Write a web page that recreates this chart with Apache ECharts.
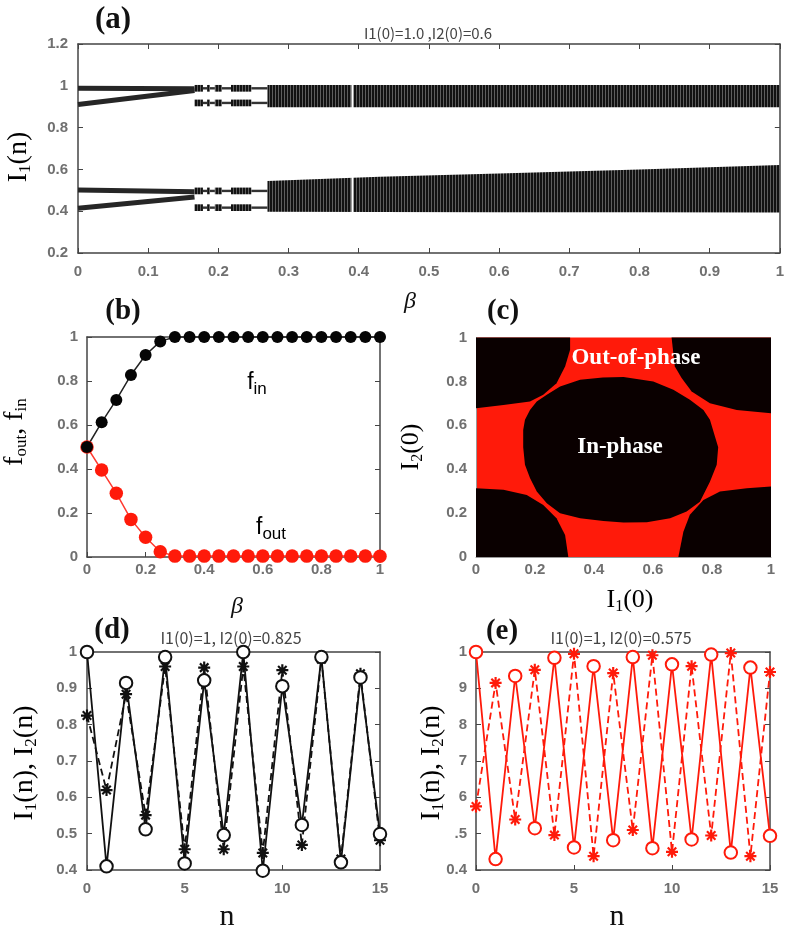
<!DOCTYPE html>
<html>
<head>
<meta charset="utf-8">
<script src="https://cdn.jsdelivr.net/npm/echarts@6/dist/echarts.min.js"></script>
<style>html,body{margin:0;padding:0;background:#fff;}#c{width:787px;height:931px;}</style>
</head>
<body>
<div id="c"></div>
<script>
// ---------- Panel (a): bifurcation-like diagram ----------
const aBranchBeta = [0, 0.166];
const aBranch1 = [0.988, 0.986];
const aBranch2 = [0.911, 0.978];
const aBranch3 = [0.501, 0.493];
const aBranch4 = [0.414, 0.468];
const aRowLevels = [0.988, 0.918, 0.497, 0.417];
const aClusterSpans = [[0.166, 0.178], [0.184, 0.188], [0.195, 0.205], [0.218, 0.247]];
const aConnectorSpans = [[0.178, 0.184], [0.188, 0.195], [0.205, 0.218], [0.247, 0.27]];
const aUpperBandBeta = [0.27, 1.0];
const aUpperBandLo = [0.897, 0.897];
const aUpperBandHi = [1.004, 1.004];
const aLowerBandBeta = [0.27, 0.43, 0.6, 0.8, 1.0];
const aLowerBandLo = [0.397, 0.396, 0.395, 0.395, 0.394];
const aLowerBandHi = [0.545, 0.565, 0.58, 0.60, 0.621];
const aGapBeta = [0.391];

// ---------- Panel (b) ----------
const bBeta = [0, 0.05, 0.1, 0.15, 0.2, 0.25, 0.3, 0.35, 0.4, 0.45, 0.5, 0.55, 0.6, 0.65, 0.7, 0.75, 0.8, 0.85, 0.9, 0.95, 1.0];
const bFin  = [0.5, 0.612, 0.714, 0.827, 0.918, 0.98, 1, 1, 1, 1, 1, 1, 1, 1, 1, 1, 1, 1, 1, 1, 1];
const bFout = [0.5, 0.395, 0.29, 0.171, 0.09, 0.024, 0.004, 0.004, 0.004, 0.004, 0.004, 0.004, 0.004, 0.004, 0.004, 0.004, 0.004, 0.004, 0.004, 0.004, 0.003];

// ---------- Panel (c): basin map, black (in-phase) regions on red ----------
const cCentre = [[0.160,0.50],[0.160,0.579],[0.166,0.625],[0.183,0.670],[0.206,0.708],[0.240,0.739],[0.285,0.777],[0.353,0.807],[0.43,0.818],[0.50,0.82],[0.601,0.80],[0.669,0.762],[0.725,0.716],[0.771,0.670],[0.793,0.625],[0.810,0.549],[0.821,0.50],[0.816,0.420],[0.793,0.343],[0.759,0.252],[0.714,0.207],[0.658,0.176],[0.579,0.158],[0.50,0.157],[0.432,0.164],[0.353,0.176],[0.285,0.199],[0.240,0.245],[0.206,0.298],[0.183,0.360],[0.166,0.420]];
const cTopLeft = [[0,1],[0.319,1],[0.319,0.944],[0.302,0.868],[0.273,0.792],[0.228,0.739],[0.183,0.708],[0.093,0.693],[0,0.678]];
const cTopRight = [[1,1],[0.663,1],[0.674,0.868],[0.697,0.815],[0.731,0.754],[0.793,0.701],[0.884,0.670],[1,0.655]];
const cBottomLeft = [[0,0],[0,0.313],[0.093,0.306],[0.172,0.283],[0.228,0.237],[0.273,0.177],[0.302,0.1],[0.313,0]];
const cBottomRight = [[1,0],[0.686,0],[0.703,0.115],[0.725,0.192],[0.771,0.260],[0.827,0.298],[0.918,0.313],[1,0.321]];

// ---------- Panels (d), (e) ----------
const nSteps = [0,1,2,3,4,5,6,7,8,9,10,11,12,13,14,15];
const dI1 = [1.0,0.41,0.915,0.512,0.986,0.418,0.922,0.496,1.0,0.398,0.906,0.524,0.986,0.421,0.93,0.499];
const dI2 = [0.825,0.62,0.884,0.551,0.96,0.457,0.957,0.457,0.96,0.447,0.95,0.469,0.98,0.43,0.94,0.482];
const eI1 = [1.0,0.43,0.934,0.515,0.984,0.462,0.961,0.482,0.986,0.46,0.966,0.484,0.993,0.448,0.957,0.494];
const eI2 = [0.575,0.915,0.539,0.951,0.496,0.995,0.438,0.942,0.51,0.991,0.45,0.961,0.495,0.997,0.438,0.945];
const eYTickLabels = ['0.4', '.5', '6', '7', '8', '9', '1'];

// ---------- styling helpers ----------
const RED = '#ff1a0a';
const pat = document.createElement('canvas');
pat.width = 3; pat.height = 4;
(function(){ const g = pat.getContext('2d'); g.fillStyle = '#121212'; g.fillRect(0,0,3,4); g.fillStyle = '#5e5e5e'; g.fillRect(2,0,1,4); })();
const bandFill = { image: pat, repeat: 'repeat' };

function asteriskPath() {
  let s = '';
  const L = 10, w = 1.8;
  [0, 45, 90, 135].forEach(function (deg) {
    const t = deg * Math.PI / 180, dx = Math.cos(t), dy = Math.sin(t), nx = -dy, ny = dx;
    const p = [[L*dx + w*nx, L*dy + w*ny], [L*dx - w*nx, L*dy - w*ny], [-L*dx - w*nx, -L*dy - w*ny], [-L*dx + w*nx, -L*dy + w*ny]];
    s += 'M' + p.map(function (q) { return (10 + q[0]).toFixed(2) + ',' + (10 + q[1]).toFixed(2); }).join('L') + 'Z';
  });
  return 'path://' + s;
}
const ASTER = asteriskPath();

const tickFont = { fontFamily: 'Liberation Sans, Arial, sans-serif', fontSize: 15, color: '#707070', fontWeight: 'bold' };
const axisCol = '#444';
function xAx(grid, min, max, interval, margin, extra) {
  return Object.assign({
    type: 'value', gridIndex: grid, min: min, max: max, interval: interval, position: 'bottom',
    axisLine: { show: true, onZero: false, lineStyle: { color: axisCol, width: 1.5 } },
    axisTick: { show: true, inside: true, length: 5, lineStyle: { color: axisCol } },
    axisLabel: Object.assign({ margin: margin }, tickFont),
    splitLine: { show: false }
  }, extra || {});
}
function topAx(grid, min, max, interval, showTicks) {
  return {
    type: 'value', gridIndex: grid, min: min, max: max, interval: interval, position: 'top',
    axisLine: { show: true, onZero: false, lineStyle: { color: axisCol, width: 1.5 } },
    axisTick: { show: showTicks, inside: true, length: 5, lineStyle: { color: axisCol } },
    axisLabel: { show: false }, splitLine: { show: false }
  };
}
function yAx(grid, min, max, interval, margin, extra) {
  return Object.assign({
    type: 'value', gridIndex: grid, min: min, max: max, interval: interval, position: 'left',
    axisLine: { show: true, onZero: false, lineStyle: { color: axisCol, width: 1.5 } },
    axisTick: { show: true, inside: true, length: 5, lineStyle: { color: axisCol } },
    axisLabel: Object.assign({ margin: margin }, tickFont),
    splitLine: { show: false }
  }, extra || {});
}
function rightAx(grid, min, max, interval, showTicks) {
  return {
    type: 'value', gridIndex: grid, min: min, max: max, interval: interval, position: 'right',
    axisLine: { show: true, onZero: false, lineStyle: { color: axisCol, width: 1.5 } },
    axisTick: { show: showTicks, inside: true, length: 5, lineStyle: { color: axisCol } },
    axisLabel: { show: false }, splitLine: { show: false }
  };
}

const SERIF = 'Liberation Serif, Times New Roman, serif';
function richName(fs, sfs, drop) {
  return {
    m: { fontFamily: SERIF, fontSize: fs, color: '#111' },
    s: { fontFamily: SERIF, fontSize: sfs, color: '#111', padding: [drop, 0, 0, 0] }
  };
}
function gText(x, y, text, style, rot) {
  return {
    type: 'text', x: x, y: y, rotation: rot || 0, z: 100,
    style: Object.assign({ text: text, align: 'center', verticalAlign: 'middle' }, style)
  };
}

const option = {
  animation: false,
  backgroundColor: '#fff',
  grid: [
    { left: 78, top: 44, width: 703, height: 209 },
    { left: 87, top: 337, width: 293, height: 220 },
    { left: 476, top: 337.5, width: 295, height: 219.5, show: true, backgroundColor: RED, borderWidth: 0 },
    { left: 87, top: 652, width: 293, height: 218 },
    { left: 476, top: 652, width: 294, height: 218 }
  ],
  xAxis: [
    xAx(0, 0, 1, 0.1, 11),
    topAx(0, 0, 1, 0.1, true),
    xAx(1, 0, 1, 0.2, 5),
    topAx(1, 0, 1, 0.2, false),
    xAx(2, 0, 1, 0.2, 5, { axisLine: { show: true, onZero: false, lineStyle: { color: '#999', width: 1 } }, axisTick: { show: false } }),
    xAx(3, 0, 15, 5, 11),
    topAx(3, 0, 15, 5, false),
    xAx(4, 0, 15, 5, 11),
    topAx(4, 0, 15, 5, false)
  ],
  yAxis: [
    yAx(0, 0.2, 1.2, 0.2, 10),
    rightAx(0, 0.2, 1.2, 0.2, true),
    yAx(1, 0, 1, 0.2, 9),
    rightAx(1, 0, 1, 0.2, true),
    yAx(2, 0, 1, 0.2, 9, { axisLine: { show: true, onZero: false, lineStyle: { color: '#999', width: 1 } }, axisTick: { show: false } }),
    yAx(3, 0.4, 1, 0.1, 10),
    rightAx(3, 0.4, 1, 0.1, true),
    yAx(4, 0.4, 1, 0.1, 9, { axisLabel: Object.assign({ margin: 9, formatter: function (v, i) { return eYTickLabels[i]; } }, tickFont) }),
    rightAx(4, 0.4, 1, 0.1, true)
  ],
  series: [
    // ----- (a) -----
    {
      type: 'custom', xAxisIndex: 0, yAxisIndex: 0, data: [[0.5, 0.7]], silent: true,
      renderItem: function (params, api) {
        const kids = [];
        function band(betas, lo, hi) {
          const pts = [];
          for (let i = 0; i < betas.length; i++) pts.push(api.coord([betas[i], hi[i]]));
          for (let i = betas.length - 1; i >= 0; i--) pts.push(api.coord([betas[i], lo[i]]));
          kids.push({ type: 'polygon', shape: { points: pts }, style: { fill: bandFill } });
        }
        band(aUpperBandBeta, aUpperBandLo, aUpperBandHi);
        band(aLowerBandBeta, aLowerBandLo, aLowerBandHi);
        aRowLevels.forEach(function (lv) {
          aClusterSpans.forEach(function (sp) {
            const p0 = api.coord([sp[0], lv + 0.016]), p1 = api.coord([sp[1], lv - 0.016]);
            kids.push({ type: 'rect', shape: { x: p0[0], y: p0[1], width: Math.max(p1[0] - p0[0], 2), height: p1[1] - p0[1] }, style: { fill: bandFill } });
          });
          aConnectorSpans.forEach(function (sp) {
            const p0 = api.coord([sp[0], lv]), p1 = api.coord([sp[1], lv]);
            kids.push({ type: 'rect', shape: { x: p0[0], y: p0[1] - 1.2, width: p1[0] - p0[0], height: 2.4 }, style: { fill: '#333' } });
          });
        });
        aGapBeta.forEach(function (b) {
          const p0 = api.coord([b, 1.01]), p1 = api.coord([b, 0.39]);
          kids.push({ type: 'rect', shape: { x: p0[0] - 1, y: p0[1], width: 2, height: p1[1] - p0[1] }, style: { fill: '#fff' } });
        });
        return { type: 'group', children: kids };
      }
    },
    ...[aBranch1, aBranch2, aBranch3, aBranch4].map(function (arr) {
      return {
        type: 'line', xAxisIndex: 0, yAxisIndex: 0, symbol: 'none', silent: true,
        data: aBranchBeta.map(function (b, i) { return [b, arr[i]]; }),
        lineStyle: { color: '#262626', width: 5 }
      };
    }),
    // ----- (b) -----
    {
      type: 'line', xAxisIndex: 2, yAxisIndex: 2, clip: false, symbol: 'circle', symbolSize: 13.5,
      data: bBeta.map(function (b, i) { return [b, bFout[i]]; }),
      itemStyle: { color: RED }, lineStyle: { color: '#ff3a30', width: 1.5 }
    },
    {
      type: 'line', xAxisIndex: 2, yAxisIndex: 2, clip: false, symbol: 'circle', symbolSize: 12,
      data: bBeta.map(function (b, i) { return [b, bFin[i]]; }),
      itemStyle: { color: '#050505' }, lineStyle: { color: '#222', width: 1.5 }
    },
    // ----- (c) -----
    {
      type: 'custom', xAxisIndex: 4, yAxisIndex: 4, data: [[0.5, 0.5]], silent: true,
      renderItem: function (params, api) {
        const kids = [cCentre, cTopLeft, cTopRight, cBottomLeft, cBottomRight].map(function (poly) {
          return { type: 'polygon', shape: { points: poly.map(function (p) { return api.coord(p); }) }, style: { fill: '#0a0000' } };
        });
        return { type: 'group', children: kids };
      }
    },
    // ----- (d) -----
    {
      type: 'line', xAxisIndex: 5, yAxisIndex: 5, clip: false, symbol: ASTER, symbolSize: 12,
      data: nSteps.map(function (n, i) { return [n, dI2[i]]; }),
      itemStyle: { color: '#111' }, lineStyle: { color: '#111', width: 1.8, type: [7, 4] }
    },
    {
      type: 'line', xAxisIndex: 5, yAxisIndex: 5, clip: false, symbol: 'emptyCircle', symbolSize: 12.5,
      data: nSteps.map(function (n, i) { return [n, dI1[i]]; }),
      itemStyle: { color: '#111', borderWidth: 2 }, lineStyle: { color: '#111', width: 1.8 }
    },
    // ----- (e) -----
    {
      type: 'line', xAxisIndex: 7, yAxisIndex: 7, clip: false, symbol: ASTER, symbolSize: 12,
      data: nSteps.map(function (n, i) { return [n, eI2[i]]; }),
      itemStyle: { color: RED }, lineStyle: { color: RED, width: 1.8, type: [7, 4] }
    },
    {
      type: 'line', xAxisIndex: 7, yAxisIndex: 7, clip: false, symbol: 'emptyCircle', symbolSize: 12.5,
      data: nSteps.map(function (n, i) { return [n, eI1[i]]; }),
      itemStyle: { color: RED, borderWidth: 2 }, lineStyle: { color: RED, width: 1.8 }
    }
  ],
  graphic: [
    // panel letters
    gText(113, 20, '(a)', { fontFamily: SERIF, fontWeight: 'bold', fontSize: 31, fill: '#111' }),
    gText(123, 312, '(b)', { fontFamily: SERIF, fontWeight: 'bold', fontSize: 29, fill: '#111' }),
    gText(503, 312, '(c)', { fontFamily: SERIF, fontWeight: 'bold', fontSize: 29, fill: '#111' }),
    gText(112, 631, '(d)', { fontFamily: SERIF, fontWeight: 'bold', fontSize: 29, fill: '#111' }),
    gText(502, 632, '(e)', { fontFamily: SERIF, fontWeight: 'bold', fontSize: 29, fill: '#111' }),
    // titles
    gText(428, 33, 'I1(0)=1.0 ,I2(0)=0.6', { fontFamily: 'Noto Sans CJK JP, sans-serif', fontSize: 15, fill: '#444' }),
    gText(231, 638, 'I1(0)=1, I2(0)=0.825', { fontFamily: 'Noto Sans CJK JP, sans-serif', fontSize: 16, fill: '#444' }),
    gText(621, 638, 'I1(0)=1, I2(0)=0.575', { fontFamily: 'Noto Sans CJK JP, sans-serif', fontSize: 16, fill: '#444' }),
    // axis names
    gText(19, 157, '{m|I}{s|1}{m|(n)}', { rich: richName(28, 17, 14) }, Math.PI / 2),
    gText(410, 302, 'β', { fontFamily: SERIF, fontStyle: 'italic', fontSize: 24, fill: '#111' }),
    gText(15, 432, '{m|f}{s|out}{m|, f}{s|in}', { rich: richName(28, 17, 14) }, Math.PI / 2),
    gText(237, 607, 'β', { fontFamily: SERIF, fontStyle: 'italic', fontSize: 24, fill: '#111' }),
    gText(411, 447, '{m|I}{s|2}{m|(0)}', { rich: richName(26, 16, 13) }, Math.PI / 2),
    gText(630, 600, '{m|I}{s|1}{m|(0)}', { rich: richName(26, 16, 13) }),
    gText(25, 763, '{m|I}{s|1}{m|(n), I}{s|2}{m|(n)}', { rich: richName(28, 17, 14) }, Math.PI / 2),
    gText(432, 763, '{m|I}{s|1}{m|(n), I}{s|2}{m|(n)}', { rich: richName(28, 17, 14) }, Math.PI / 2),
    gText(227, 917, 'n', { fontFamily: SERIF, fontSize: 30, fill: '#111' }),
    gText(617, 917, 'n', { fontFamily: SERIF, fontSize: 30, fill: '#111' }),
    // in-plot labels
    gText(257, 383, '{m|f}{s|in}', { rich: { m: { fontFamily: 'Liberation Sans, Arial, sans-serif', fontSize: 23, color: '#111' }, s: { fontFamily: 'Liberation Sans, Arial, sans-serif', fontSize: 17, color: '#111', padding: [12, 0, 0, 0] } } }),
    gText(271, 528, '{m|f}{s|out}', { rich: { m: { fontFamily: 'Liberation Sans, Arial, sans-serif', fontSize: 23, color: '#111' }, s: { fontFamily: 'Liberation Sans, Arial, sans-serif', fontSize: 17, color: '#111', padding: [12, 0, 0, 0] } } }),
    gText(636, 358, 'Out-of-phase', { fontFamily: SERIF, fontWeight: 'bold', fontSize: 23, fill: '#fff' }),
    gText(620, 447, 'In-phase', { fontFamily: SERIF, fontWeight: 'bold', fontSize: 23, fill: '#fff' })
  ]
};

const chart = echarts.init(document.getElementById('c'), null, { renderer: 'canvas' });
chart.setOption(option);
</script>
</body>
</html>
